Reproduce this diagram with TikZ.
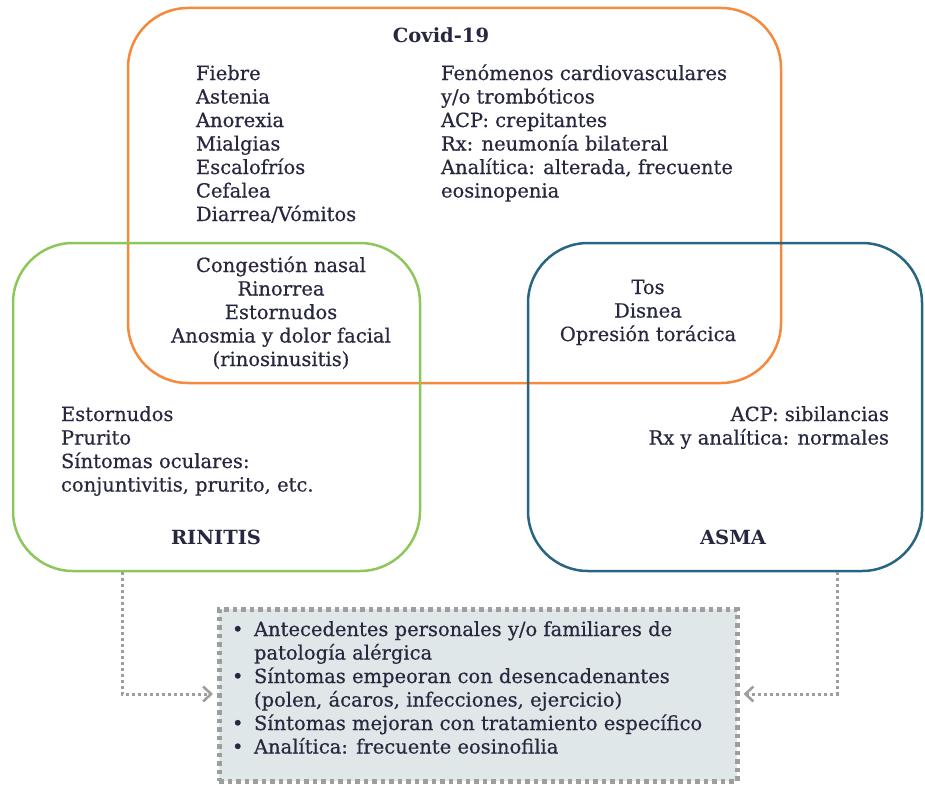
\documentclass[tikz,border=0pt]{standalone}
\usepackage{fontspec}
\setmainfont{DejaVu Serif}
\newfontfamily\bodyfont{DejaVu Serif}[FakeBold=0.5]
\usetikzlibrary{arrows.meta}
\definecolor{covid}{HTML}{F5893C}
\definecolor{rinit}{HTML}{8DC75A}
\definecolor{asma}{HTML}{266682}
\definecolor{txt}{HTML}{27273F}
\definecolor{grayln}{HTML}{9E9E9E}
\definecolor{boxfill}{HTML}{DFE7E8}
\newcommand{\fstrut}{\rule{0pt}{16pt}}
\newcommand{\bul}{\makebox[22pt][l]{\raisebox{0pt}{\textbullet}}}
\tikzset{
  setbox/.style={draw, line width=2.5pt, rounded corners=60pt},
  lbl/.style={inner sep=0pt, outer sep=0pt, text=txt, font=\bodyfont\fontsize{19.5}{23.5}\selectfont},
  ttl/.style={inner sep=0pt, outer sep=0pt, text=txt, font=\rmfamily\fontsize{19.5}{23.5}\selectfont\bfseries},
  conn/.style={draw=grayln, line width=3pt, dash pattern=on 3pt off 3pt, line cap=butt,
    -{Straight Barb[length=8pt,width=15pt,line width=2.6pt]}},
}
\begin{document}
\begin{tikzpicture}[x=1pt,y=-1pt]
\useasboundingbox (0,0) rectangle (925,784);
% sets
\path[setbox, draw=covid] (128,8) rectangle (781,383);
\path[setbox, draw=rinit] (13,243) rectangle (420,571);
\path[setbox, draw=asma] (528,243) rectangle (922,571);
% common box
\node[draw=grayln, fill=boxfill, line width=4.5pt, dash pattern=on 4.5pt off 4pt,
      minimum width=518pt, minimum height=172pt, inner sep=0pt, anchor=north west]
      (common) at (217,607) {};
% texts
\node[ttl, anchor=north] (tcovid) at (441,27) {\fstrut Covid-19};
\node[lbl, anchor=north west, align=left] (covl) at (196,64)
  {\fstrut Fiebre\\Astenia\\Anorexia\\Mialgias\\Escalofríos\\Cefalea\\Diarrea/Vómitos};
\node[lbl, anchor=north west, align=left] (covr) at (441,64)
  {\fstrut Fenómenos cardiovasculares\\y/o trombóticos\\ACP: crepitantes\\Rx: neumonía bilateral\\Analítica: alterada, frecuente\\eosinopenia};
\node[lbl, anchor=north, align=center] (covrin) at (281,256)
  {\fstrut Congestión nasal\\Rinorrea\\Estornudos\\Anosmia y dolor facial\\(rinosinusitis)};
\node[lbl, anchor=north, align=center] (covasm) at (648,278)
  {\fstrut Tos\\Disnea\\Opresión torácica};
\node[lbl, anchor=north west, align=left] (rin) at (61,405)
  {\fstrut Estornudos\\Prurito\\Síntomas oculares:\\conjuntivitis, prurito, etc.};
\node[lbl, anchor=north east, align=right] (asm) at (889,405)
  {\fstrut ACP: sibilancias\\Rx y analítica: normales};
\node[ttl, anchor=north] (trin) at (216,528) {\fstrut RINITIS};
\node[ttl, anchor=north] (tasm) at (733,528) {\fstrut ASMA};
\node[lbl, anchor=north west, align=left] (ctext) at (232,620)
  {\fstrut\bul Antecedentes personales y/o familiares de\\
   \hspace*{22pt}patología alérgica\\
   \bul Síntomas empeoran con desencadenantes\\
   \hspace*{22pt}(polen, ácaros, infecciones, ejercicio)\\
   \bul Síntomas mejoran con tratamiento específico\\
   \bul Analítica: frecuente eosinofilia};
% connectors
\coordinate (rinb) at (122,572);
\coordinate (asmb) at (837,572);
\draw[conn] (rinb) |- ([xshift=-4pt]common.west |- 0,694);
\draw[conn] (asmb) |- ([xshift=4pt]common.east |- 0,694);
\end{tikzpicture}
\end{document}
